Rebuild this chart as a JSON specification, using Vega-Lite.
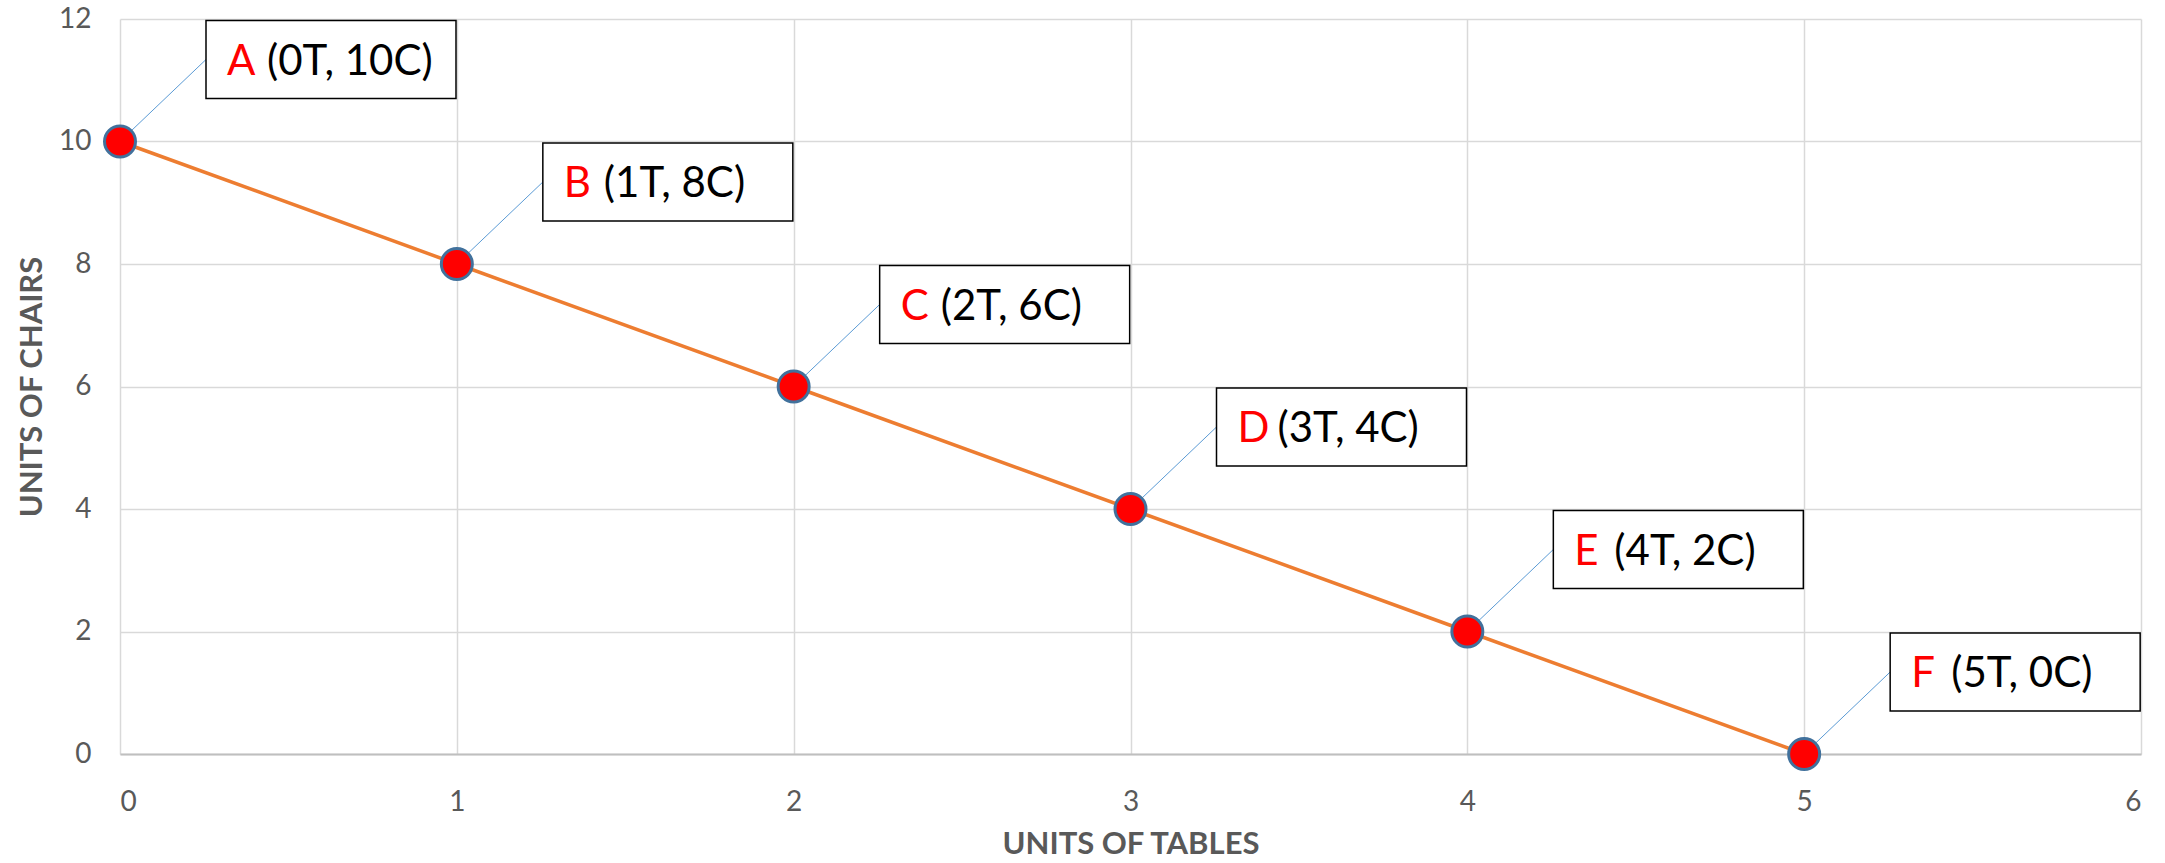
{
  "$schema": "https://vega.github.io/schema/vega-lite/v6.json",
  "autosize": {"type": "none"},
  "padding": {"left": 120, "top": 19, "right": 24, "bottom": 109},
  "width": 2021,
  "height": 735,
  "background": "white",
  "config": {
    "view": {"stroke": null},
    "font": "Lato",
    "axis": {
      "labelFont": "Lato",
      "labelFontSize": 28,
      "labelColor": "#595959",
      "titleFont": "Lato",
      "titleFontSize": 31,
      "titleFontWeight": "bold",
      "titleColor": "#595959",
      "gridColor": "#D9D9D9",
      "gridWidth": 1.5,
      "ticks": false
    }
  },
  "data": {
    "values": [
      {"point": "A", "tables": 0, "chairs": 10},
      {"point": "B", "tables": 1, "chairs": 8},
      {"point": "C", "tables": 2, "chairs": 6},
      {"point": "D", "tables": 3, "chairs": 4},
      {"point": "E", "tables": 4, "chairs": 2},
      {"point": "F", "tables": 5, "chairs": 0}
    ]
  },
  "transform": [
    {"calculate": "'(' + datum.tables + 'T, ' + datum.chairs + 'C)'", "as": "coords"}
  ],
  "encoding": {
    "x": {
      "field": "tables",
      "type": "quantitative",
      "scale": {"domain": [0, 6], "nice": false},
      "axis": {
        "title": "UNITS OF TABLES",
        "values": [0, 1, 2, 3, 4, 5, 6],
        "domain": true,
        "domainColor": "#BFBFBF",
        "domainWidth": 2,
        "labelPadding": 34,
        "titlePadding": 13
      }
    },
    "y": {
      "field": "chairs",
      "type": "quantitative",
      "scale": {"domain": [0, 12], "nice": false},
      "axis": {
        "title": "UNITS OF CHAIRS",
        "values": [0, 2, 4, 6, 8, 10, 12],
        "domain": false,
        "labelPadding": 29,
        "titlePadding": 10
      }
    }
  },
  "layer": [
    {
      "mark": {"type": "rule", "color": "#5B9BD5", "strokeWidth": 1, "x2Offset": 86, "y2Offset": -82},
      "encoding": {
        "x2": {"field": "tables"},
        "y2": {"field": "chairs"}
      }
    },
    {
      "mark": {"type": "line", "color": "#ED7D31", "strokeWidth": 3.5}
    },
    {
      "mark": {"type": "point", "shape": "circle", "filled": true, "size": 960, "fill": "#FF0000", "stroke": "#41719C", "strokeWidth": 3, "opacity": 1}
    },
    {
      "mark": {"type": "rect", "fill": "white", "stroke": "black", "strokeWidth": 1.5, "xOffset": 86, "x2Offset": 336, "yOffset": -121, "y2Offset": -43},
      "encoding": {
        "x2": {"field": "tables"},
        "y2": {"field": "chairs"}
      }
    },
    {
      "mark": {"type": "text", "align": "left", "baseline": "middle", "font": "Lato", "fontSize": 42, "color": "#FF0000", "dx": 107, "dy": -80},
      "encoding": {"text": {"field": "point"}}
    },
    {
      "mark": {"type": "text", "align": "left", "baseline": "middle", "font": "Lato", "fontSize": 42, "color": "black", "dx": 147, "dy": -80},
      "encoding": {"text": {"field": "coords"}}
    }
  ]
}
